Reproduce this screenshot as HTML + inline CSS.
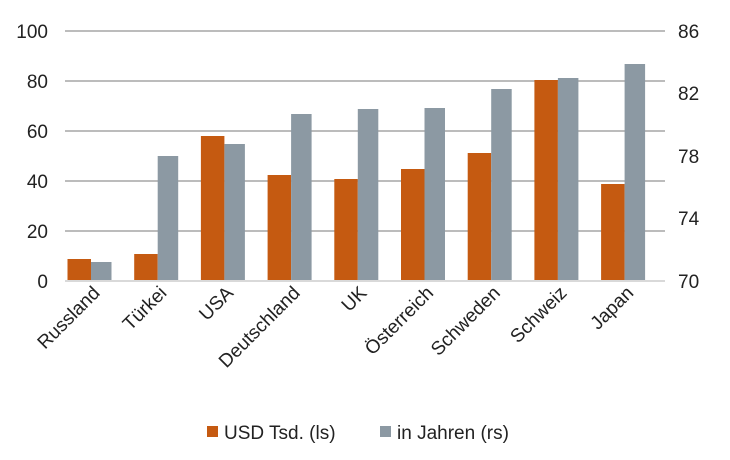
<!DOCTYPE html><html><head><style>body{margin:0;background:#fff}</style></head><body>
<svg width="730" height="455" xmlns="http://www.w3.org/2000/svg" font-family="Liberation Sans, sans-serif" font-size="19" fill="#222">
<g stroke="#a6a6a6" stroke-width="1.5">
<line x1="65" y1="31" x2="665" y2="31"/><line x1="65" y1="81" x2="665" y2="81"/><line x1="65" y1="131" x2="665" y2="131"/><line x1="65" y1="181" x2="665" y2="181"/><line x1="65" y1="231" x2="665" y2="231"/>
</g>
<g id="bars"></g>
<line x1="65" y1="281" x2="665" y2="281" stroke="#d9d9d9" stroke-width="2"/>
<g text-anchor="end"><text x="48" y="38">100</text><text x="48" y="88">80</text><text x="48" y="138">60</text><text x="48" y="188">40</text><text x="48" y="238">20</text><text x="48" y="288">0</text></g>
<g text-anchor="start"><text x="678" y="38">86</text><text x="678" y="100">82</text><text x="678" y="163">78</text><text x="678" y="225">74</text><text x="678" y="288">70</text></g>
<g text-anchor="end" id="labels"></g>
<rect x="207" y="426" width="11" height="11" fill="#C55A11"/><text x="224" y="439">USD Tsd. (ls)</text>
<rect x="380" y="426" width="11" height="11" fill="#8C99A3"/><text x="397" y="439">in Jahren (rs)</text>
</svg>
<script>
var o=[259,254,136,175,179,169,153,80,184],g=[262,156,144,114,109,108,89,78,64],n=["Russland","Türkei","USA","Deutschland","UK","Österreich","Schweden","Schweiz","Japan"];
var B=document.getElementById("bars"),L=document.getElementById("labels"),s="";
for(var i=0;i<9;i++){var x=67.5+66.7*i;s+='<rect x="'+x+'" y="'+o[i]+'" width="23.5" height="'+(280-o[i])+'" fill="#C55A11"/><rect x="'+(x+23.5)+'" y="'+g[i]+'" width="20.5" height="'+(280-g[i])+'" fill="#8C99A3"/>';}
B.innerHTML=s;s="";
for(var i=0;i<9;i++){var cx=89+66.7*i+12;s+='<text transform="translate('+cx+',294) rotate(-45)">'+n[i]+'</text>';}
L.innerHTML=s;
</script>
</body></html>
